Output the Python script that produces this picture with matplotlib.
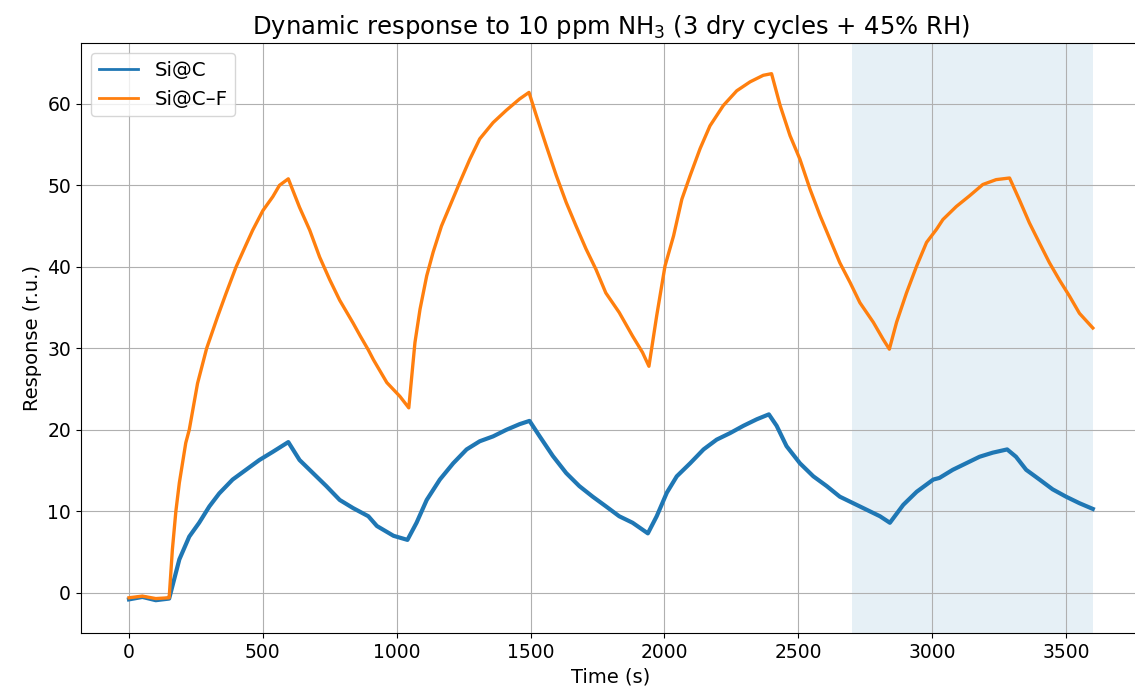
import matplotlib
matplotlib.use("Agg")
import matplotlib.pyplot as plt
from matplotlib.lines import Line2D

# ------------------------
# Data
# ------------------------
t_sicf = [0, 50, 100, 150, 162, 175, 188, 212, 225, 256, 290, 331, 362, 400, 437,
          462, 500, 537, 562, 595, 637, 675, 712, 750, 787, 837, 864, 894, 913, 963,
          1012, 1045, 1068, 1087, 1112, 1136, 1167, 1199, 1236, 1273, 1310, 1360,
          1409, 1459, 1494, 1521, 1558, 1596, 1633, 1670, 1707, 1744, 1781, 1831,
          1881, 1918, 1942, 1971, 2002, 2034, 2065, 2096, 2133, 2170, 2220, 2270,
          2320, 2369, 2400, 2432, 2469, 2506, 2544, 2581, 2618, 2655, 2693, 2730,
          2780, 2817, 2840, 2867, 2904, 2942, 2979, 3016, 3040, 3090, 3139, 3189,
          3239, 3289, 3326, 3363, 3401, 3438, 3475, 3513, 3550, 3600]
y_sicf = [-0.6, -0.4, -0.7, -0.6, 5.3, 10.0, 13.5, 18.4, 20.0, 25.7, 30.0, 33.9, 36.7,
          40.0, 42.7, 44.5, 46.9, 48.6, 50.0, 50.8, 47.3, 44.5, 41.2, 38.4, 35.9,
          33.1, 31.5, 29.8, 28.6, 25.8, 24.1, 22.7, 30.7, 34.8, 38.9, 41.8, 45.0,
          47.5, 50.4, 53.2, 55.7, 57.7, 59.2, 60.6, 61.4, 58.6, 54.9, 51.2, 47.9,
          45.0, 42.2, 39.7, 36.8, 34.4, 31.5, 29.5, 27.8, 34.0, 40.1, 43.8, 48.3,
          51.2, 54.5, 57.3, 59.8, 61.6, 62.7, 63.5, 63.7, 59.8, 56.1, 53.2, 49.5,
          46.3, 43.4, 40.5, 38.1, 35.6, 33.2, 31.1, 29.9, 33.2, 36.8, 40.1, 43.0,
          44.6, 45.8, 47.4, 48.7, 50.1, 50.7, 50.9, 48.2, 45.4, 42.9, 40.5, 38.4,
          36.4, 34.3, 32.5]

t_sic = [0, 50, 100, 150, 188, 225, 262, 300, 337, 387, 437, 487, 537, 595, 637,
         687, 737, 787, 837, 894, 926, 988, 1040, 1074, 1112, 1161, 1211, 1261,
         1310, 1360, 1409, 1459, 1496, 1534, 1583, 1633, 1682, 1732, 1782, 1831,
         1881, 1938, 1971, 2009, 2046, 2096, 2146, 2195, 2245, 2295, 2345, 2390,
         2419, 2456, 2506, 2556, 2606, 2655, 2705, 2755, 2805, 2842, 2892, 2942,
         3004, 3027, 3077, 3127, 3177, 3226, 3280, 3313, 3351, 3401, 3450, 3500,
         3550, 3600]
y_sic = [-0.8, -0.5, -0.9, -0.7, 4.1, 6.9, 8.6, 10.6, 12.2, 13.9, 15.1, 16.3, 17.3,
         18.5, 16.3, 14.7, 13.1, 11.4, 10.4, 9.4, 8.2, 7.0, 6.5, 8.6, 11.4, 13.9,
         15.9, 17.6, 18.6, 19.2, 20.0, 20.7, 21.1, 19.2, 16.8, 14.7, 13.1, 11.8,
         10.6, 9.4, 8.6, 7.3, 9.4, 12.3, 14.3, 15.9, 17.6, 18.8, 19.6, 20.5, 21.3,
         21.9, 20.5, 18.0, 15.9, 14.3, 13.1, 11.8, 11.0, 10.2, 9.4, 8.6, 10.8, 12.4,
         13.9, 14.1, 15.1, 15.9, 16.7, 17.2, 17.6, 16.7, 15.1, 13.9, 12.7, 11.8,
         11.0, 10.3]

humid_window = (2700, 3600)   # 45% RH part

# ------------------------
# Plot
# ------------------------
plt.rcParams["font.size"] = 13.5

fig, ax = plt.subplots(figsize=(11.35, 7.0), dpi=100)
fig.subplots_adjust(left=0.0712, right=1.0053, bottom=0.096, top=0.939)

ax.axvspan(humid_window[0], humid_window[1], color="C0", alpha=0.11, lw=0)
ax.plot(t_sic, y_sic, color="C0", lw=3.0, label="Si@C")
ax.plot(t_sicf, y_sicf, color="C1", lw=2.4, label="Si@C\u2013F")

ax.set_xlim(-180, 3780)
ax.set_ylim(-4.9, 67.5)
ax.set_xticks(range(0, 3501, 500))
ax.set_yticks(range(0, 61, 10))
ax.grid(True)
ax.set_xlabel("Time (s)", fontsize=14)
ax.set_ylabel("Response (r.u.)", fontsize=14)
ax.set_title("Dynamic response to 10 ppm NH$_3$ (3 dry cycles + 45% RH)", fontsize=17.5)

handles = [Line2D([], [], color="C0", lw=2.0), Line2D([], [], color="C1", lw=2.0)]
ax.legend(handles, ["Si@C", "Si@C\u2013F"], loc="upper left", fontsize=14.3)

fig.savefig("out.png", dpi=100)
